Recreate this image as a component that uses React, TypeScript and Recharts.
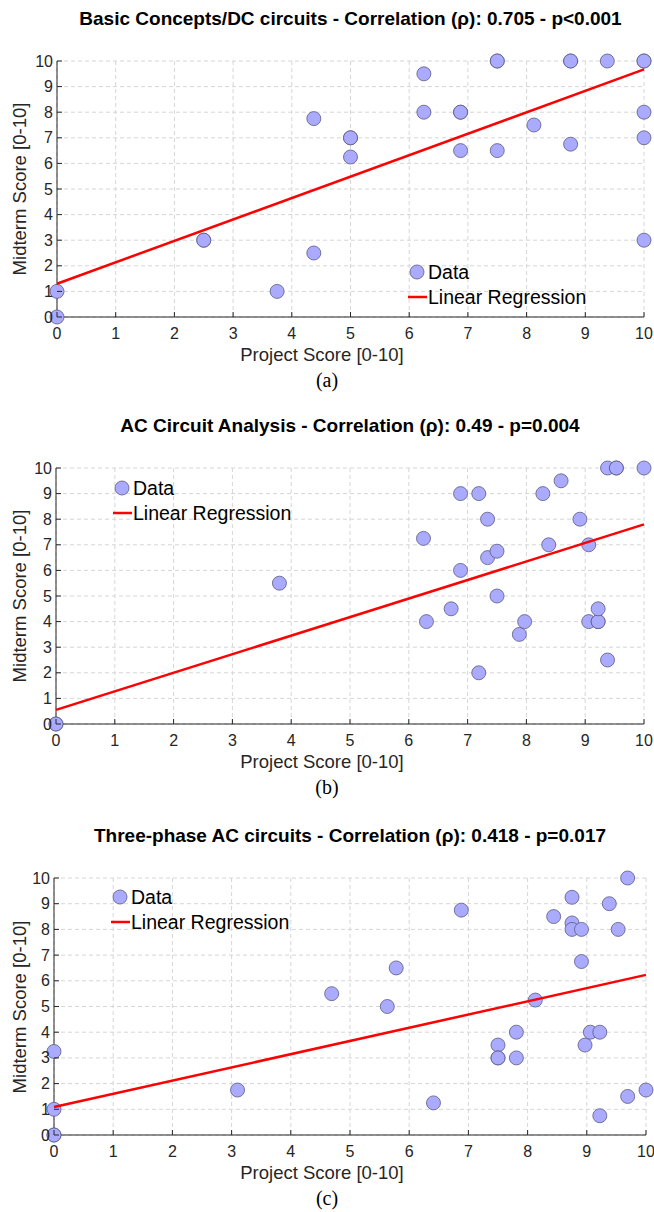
import React from "react";
import { ScatterChart, Scatter, XAxis, YAxis, CartesianGrid } from "recharts";

// panel (a)
const aProject = [0, 0, 2.5, 2.5, 3.75, 4.375, 4.375, 5, 5, 5, 6.25, 6.25, 6.875, 6.875, 6.875, 7.5, 7.5, 7.5, 8.125, 8.75, 8.75, 8.75, 9.375, 10, 10, 10, 10, 10];
const aMidterm = [1, 0, 3, 3, 1, 2.5, 7.75, 7, 7, 6.25, 9.5, 8, 8, 8, 6.5, 10, 10, 6.5, 7.5, 10, 10, 6.75, 10, 10, 10, 8, 7, 3];
const aFitX = [0, 10];
const aFitY = [1.3, 9.67];

// panel (b)
const bProject = [0, 0, 3.8, 6.25, 6.3, 6.72, 6.88, 6.88, 7.19, 7.19, 7.34, 7.34, 7.5, 7.5, 7.88, 7.97, 8.28, 8.38, 8.59, 8.91, 9.06, 9.06, 9.22, 9.22, 9.22, 9.38, 9.38, 9.53, 9.53, 10];
const bMidterm = [0, 0, 5.5, 7.25, 4, 4.5, 9, 6, 9, 2, 8, 6.5, 6.75, 5, 3.5, 4, 9, 7, 9.5, 8, 7, 4, 4, 4, 4.5, 2.5, 10, 10, 10, 10];
const bFitX = [0, 10];
const bFitY = [0.55, 7.8];

// panel (c)
const cProject = [0, 0, 0, 0, 3.1, 4.69, 5.63, 5.78, 6.41, 6.88, 7.5, 7.5, 7.5, 7.81, 7.81, 8.13, 8.44, 8.75, 8.75, 8.75, 8.91, 8.91, 8.97, 9.06, 9.22, 9.22, 9.38, 9.53, 9.69, 9.69, 10];
const cMidterm = [3.25, 1, 0, 0, 1.75, 5.5, 5, 6.5, 1.25, 8.75, 3.5, 3, 3, 4, 3, 5.25, 8.5, 9.25, 8.25, 8, 8, 6.75, 3.5, 4, 4, 0.75, 9, 8, 10, 1.5, 1.75];
const cFitX = [0, 10];
const cFitY = [1.09, 6.23];

const ticks = [0, 1, 2, 3, 4, 5, 6, 7, 8, 9, 10];

const titles = [
  "Basic Concepts/DC circuits - Correlation (\u03c1): 0.705 - p<0.001",
  "AC Circuit Analysis - Correlation (\u03c1): 0.49 - p=0.004",
  "Three-phase AC circuits - Correlation (\u03c1): 0.418 - p=0.017",
];

const SANS = "'Liberation Sans', Arial, sans-serif";
const AXIS = "#262626";
const DOT_FILL = "#aaaaff";
const DOT_STROKE = "#5a5a80";

const zip = (xs: number[], ys: number[]) => xs.map((x, i) => ({ x, y: ys[i] }));

const BottomTick = (p: any) => (
  <g>
    <line x1={p.x} x2={p.x} y1={p.y} y2={p.y - 5} stroke={AXIS} />
    <text x={p.x} y={p.y + 16} textAnchor="middle" dominantBaseline="central" fontSize={16} fill={AXIS} fontFamily={SANS}>
      {p.payload.value}
    </text>
  </g>
);

const LeftTick = (p: any) => (
  <g>
    <line x1={p.x} x2={p.x + 5} y1={p.y} y2={p.y} stroke={AXIS} />
    <text x={p.x - 4} y={p.y} textAnchor="end" dominantBaseline="central" fontSize={16} fill={AXIS} fontFamily={SANS}>
      {p.payload.value}
    </text>
  </g>
);

const TopTick = (p: any) => <line x1={p.x} x2={p.x} y1={p.y} y2={p.y + 5} stroke={AXIS} />;
const RightTick = (p: any) => <line x1={p.x} x2={p.x - 5} y1={p.y} y2={p.y} stroke={AXIS} />;

const Dot = (p: any) => <circle cx={p.cx} cy={p.cy} r={7} fill={DOT_FILL} stroke={DOT_STROKE} strokeWidth={0.8} />;

type PanelProps = {
  top: number;
  left: number;
  right: number;
  plotH: number;
  title: string;
  caption: string;
  px: number[];
  py: number[];
  fx: number[];
  fy: number[];
  legend: [number, number];
};

const Panel = ({ top, left, right, plotH, title, caption, px, py, fx, fy, legend }: PanelProps) => {
  const H = 61 + plotH + 83;
  const plotMid = (left + right) / 2;
  return (
    <div style={{ position: "absolute", left: 0, top, width: 654, height: H }}>
      <ScatterChart width={654} height={H} margin={{ top: 60, right: 0, left: 0, bottom: 0 }}>
        <CartesianGrid stroke="#d6d6d6" strokeDasharray="4 3" />
        <XAxis type="number" dataKey="x" domain={[0, 10]} ticks={ticks} interval={0} height={83}
          tickSize={0} tickMargin={0} tick={<BottomTick />} axisLine={{ stroke: AXIS }} tickLine={false} />
        <XAxis xAxisId="top" orientation="top" type="number" dataKey="x" domain={[0, 10]} ticks={ticks} interval={0}
          height={1} tickSize={0} tickMargin={0} tick={<TopTick />} axisLine={false} tickLine={false} />
        <YAxis type="number" dataKey="y" domain={[0, 10]} ticks={ticks} interval={0} width={left}
          tickSize={0} tickMargin={0} tick={<LeftTick />} axisLine={{ stroke: AXIS }} tickLine={false} />
        <YAxis yAxisId="right" orientation="right" type="number" dataKey="y" domain={[0, 10]} ticks={ticks} interval={0}
          width={654 - right} tickSize={0} tickMargin={0} tick={<RightTick />} axisLine={false} tickLine={false} />
        <Scatter data={zip(px, py)} shape={<Dot />} isAnimationActive={false} />
        <Scatter data={zip(fx, fy)} shape={() => <g />} line={{ stroke: "#ff0000", strokeWidth: 2.5 }} isAnimationActive={false} />
      </ScatterChart>
      <div style={{ position: "absolute", left: plotMid - 327, width: 654, top: 7, textAlign: "center", fontFamily: SANS, fontWeight: "bold", fontSize: 19, color: "#000", lineHeight: "24px" }}>
        {title}
      </div>
      <div style={{ position: "absolute", left: 0, width: 644, top: 61 + plotH + 27, textAlign: "center", fontFamily: SANS, fontSize: 18.5, color: AXIS, lineHeight: "22px" }}>
        Project Score [0-10]
      </div>
      <div style={{ position: "absolute", left: 0, width: 654, top: 61 + plotH + 50, textAlign: "center", fontFamily: "'Liberation Serif', 'Times New Roman', serif", fontSize: 20, color: "#000", lineHeight: "26px" }}>
        {caption}
      </div>
      <div style={{ position: "absolute", left: 20 - 150, width: 300, top: 61 + plotH / 2 - 11, textAlign: "center", transform: "rotate(-90deg)", fontFamily: SANS, fontSize: 18.5, color: AXIS, lineHeight: "22px" }}>
        Midterm Score [0-10]
      </div>
      <svg style={{ position: "absolute", left: 0, top: 0 }} width={654} height={H} pointerEvents="none">
        <circle cx={legend[0]} cy={legend[1] - top} r={7} fill={DOT_FILL} stroke={DOT_STROKE} strokeWidth={0.8} />
        <text x={legend[0] + 11} y={legend[1] - top} dominantBaseline="central" fontFamily={SANS} fontSize={19.5} fill="#000">Data</text>
        <line x1={legend[0] - 9} x2={legend[0] + 10} y1={legend[1] - top + 25} y2={legend[1] - top + 25} stroke="#ff0000" strokeWidth={2.5} />
        <text x={legend[0] + 11} y={legend[1] - top + 25} dominantBaseline="central" fontFamily={SANS} fontSize={19.5} fill="#000">Linear Regression</text>
      </svg>
    </div>
  );
};

export default function App() {
  return (
    <div style={{ position: "absolute", left: 0, top: 0, width: 654, height: 1212, background: "#fff" }}>
      <Panel top={0} left={57} right={644} plotH={256} title={titles[0]} caption="(a)"
        px={aProject} py={aMidterm} fx={aFitX} fy={aFitY} legend={[417, 272]} />
      <Panel top={407} left={56} right={644} plotH={256} title={titles[1]} caption="(b)"
        px={bProject} py={bMidterm} fx={bFitX} fy={bFitY} legend={[122, 488]} />
      <Panel top={817} left={54} right={646} plotH={257} title={titles[2]} caption="(c)"
        px={cProject} py={cMidterm} fx={cFitX} fy={cFitY} legend={[120, 897]} />
    </div>
  );
}
